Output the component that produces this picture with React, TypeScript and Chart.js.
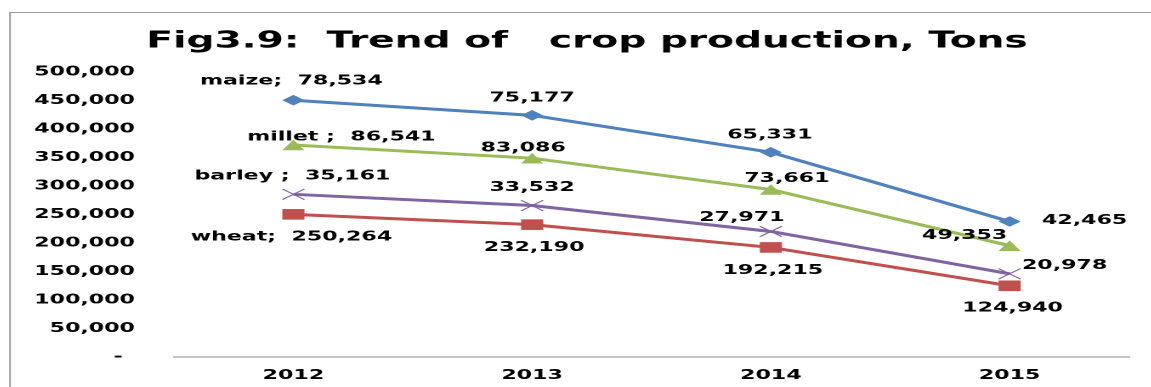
import React, { useEffect, useRef } from 'react';
import { Chart, registerables } from 'chart.js';

Chart.register(...registerables);

// ---------- data ----------
const categories = ['2012', '2013', '2014', '2015'];
const wheat = [250264, 232190, 192215, 124940];
const barley = [35161, 33532, 27971, 20978];
const millet = [86541, 83086, 73661, 49353];
const maize = [78534, 75177, 65331, 42465];
const yMin = 0;
const yMax = 500000;
const yStep = 50000;
const titleText = 'Fig3.9:  Trend of   crop production, Tons';

// ---------- style ----------
const STRETCH = 1.7; // the reference is horizontally stretched
const FONT = "'DejaVu Sans', Verdana, sans-serif";

// data label offsets from their point, in page pixels [dx, dy]
const wheatLabelOffsets = [[-2, 22], [2, 22], [2, 22], [3, 21.5]];
const barleyLabelOffsets = [[-1, -19], [0, -19], [-29, -15], [55, -9]];
const milletLabelOffsets = [[48, -9], [-9, -11], [16, -12], [-45, -11]];
const maizeLabelOffsets = [[-2, -20], [0, -18], [-1, -18], [75, -2]];

const series = [
  { name: 'wheat', sep: ';', values: wheat, color: '#C0504D', marker: 'square', offsets: wheatLabelOffsets },
  { name: 'barley', sep: ' ;', values: barley, color: '#8064A2', marker: 'x', offsets: barleyLabelOffsets },
  { name: 'millet', sep: ' ;', values: millet, color: '#9BBB59', marker: 'triangle', offsets: milletLabelOffsets },
  { name: 'maize', sep: ';', values: maize, color: '#4F81BD', marker: 'diamond', offsets: maizeLabelOffsets },
];

const fmt = (v: number) => Number(v).toLocaleString('en-US');

function drawMarker(ctx: CanvasRenderingContext2D, kind: string, x: number, y: number, color: string) {
  const hw = 6.5;
  const hh = 5.3;
  ctx.save();
  ctx.fillStyle = color;
  ctx.strokeStyle = color;
  ctx.beginPath();
  if (kind === 'diamond') {
    ctx.moveTo(x - hw, y);
    ctx.lineTo(x, y - hh);
    ctx.lineTo(x + hw, y);
    ctx.lineTo(x, y + hh);
    ctx.closePath();
    ctx.fill();
  } else if (kind === 'square') {
    ctx.rect(x - hw, y - hh, hw * 2, hh * 2);
    ctx.fill();
  } else if (kind === 'triangle') {
    ctx.moveTo(x - hw, y + hh);
    ctx.lineTo(x, y - hh);
    ctx.lineTo(x + hw, y + hh);
    ctx.closePath();
    ctx.fill();
  } else {
    ctx.lineWidth = 1;
    ctx.moveTo(x - hw, y - hh);
    ctx.lineTo(x + hw, y + hh);
    ctx.moveTo(x - hw, y + hh);
    ctx.lineTo(x + hw, y - hh);
    ctx.stroke();
  }
  ctx.restore();
}

const decorPlugin = {
  id: 'decor',
  beforeDraw(chart: any) {
    const ctx = chart.ctx as CanvasRenderingContext2D;
    ctx.save();
    ctx.fillStyle = '#ffffff';
    ctx.fillRect(0, 0, chart.width, chart.height);
    ctx.strokeStyle = '#9a9a9a';
    ctx.lineWidth = 1;
    ctx.beginPath();
    ctx.moveTo(0.6, chart.height);
    ctx.lineTo(0.6, 0.5);
    ctx.lineTo(chart.width, 0.5);
    ctx.stroke();
    ctx.restore();
  },
  afterDatasetsDraw(chart: any) {
    const ctx = chart.ctx as CanvasRenderingContext2D;
    chart.data.datasets.forEach((ds: any, i: number) => {
      const meta = chart.getDatasetMeta(i);
      meta.data.forEach((pt: any) => drawMarker(ctx, ds.marker, pt.x, pt.y, ds.borderColor));
    });
    ctx.save();
    ctx.fillStyle = '#000';
    ctx.font = `bold 13px ${FONT}`;
    ctx.textAlign = 'center';
    ctx.textBaseline = 'middle';
    chart.data.datasets.forEach((ds: any, i: number) => {
      const meta = chart.getDatasetMeta(i);
      const s = series[i];
      meta.data.forEach((pt: any, j: number) => {
        const v = s.values[j];
        const text = j === 0 ? `${s.name}${s.sep}  ${fmt(v)}` : fmt(v);
        const [dx, dy] = s.offsets[j];
        ctx.fillText(text, pt.x + dx / STRETCH, pt.y + dy + 1);
      });
    });
    ctx.restore();
  },
};

export default function App() {
  const ref = useRef<HTMLCanvasElement>(null);

  useEffect(() => {
    const tickFont = { family: FONT, size: 13, weight: 'bold' as const };
    const chart = new Chart(ref.current!, {
      type: 'line',
      data: {
        labels: categories,
        datasets: series.map((s) => ({
          label: s.name,
          data: s.values,
          borderColor: s.color,
          backgroundColor: s.color,
          fill: false,
          marker: s.marker,
          yAxisID: 'y',
        })) as any,
      },
      options: {
        responsive: true,
        maintainAspectRatio: false,
        animation: false,
        devicePixelRatio: 2,
        layout: { padding: { left: 0, right: 0, top: 0, bottom: 0 } },
        elements: {
          line: { tension: 0, borderWidth: 3 },
          point: { radius: 0, hoverRadius: 0 },
        },
        plugins: {
          legend: { display: false },
          tooltip: { enabled: false },
          title: {
            display: true,
            text: titleText,
            color: '#000',
            font: { family: FONT, size: 23, weight: 'bold', lineHeight: 1.2 },
            padding: { top: 15.8, bottom: 16.6 },
          },
        },
        scales: {
          x: {
            type: 'category',
            offset: true,
            grid: { display: false, drawTicks: false },
            border: { display: true, color: '#8c8c8c', width: 1 },
            ticks: { color: '#000', font: tickFont, padding: 11 },
            afterFit: (s: any) => {
              s.height = 50;
            },
          },
          y: {
            position: 'left',
            stacked: true,
            min: yMin,
            max: yMax,
            grid: { display: false, drawTicks: false },
            border: { display: false },
            ticks: {
              stepSize: yStep,
              color: '#000',
              font: tickFont,
              padding: 23,
              callback: (v: any) => (Number(v) === 0 ? '- \u2009' : fmt(Number(v))),
            },
            afterFit: (s: any) => {
              s.width = 97.06;
            },
          },
          yRight: {
            position: 'right',
            display: true,
            min: yMin,
            max: yMax,
            grid: { display: false, drawTicks: false },
            border: { display: false },
            ticks: { display: false },
            afterFit: (s: any) => {
              s.width = 21.2;
            },
          },
        },
      },
      plugins: [decorPlugin],
    });
    return () => chart.destroy();
  }, []);

  return (
    <div
      style={{
        position: 'absolute',
        left: 0,
        top: 0,
        width: 1151,
        height: 387,
        overflow: 'hidden',
        background: '#fff',
      }}
    >
      <div
        style={{
          position: 'absolute',
          left: 9,
          top: 12,
          width: 680,
          height: 395,
          transform: `scaleX(${STRETCH})`,
          transformOrigin: '0 0',
        }}
      >
        <canvas ref={ref} style={{ display: 'block' }} />
      </div>
    </div>
  );
}
